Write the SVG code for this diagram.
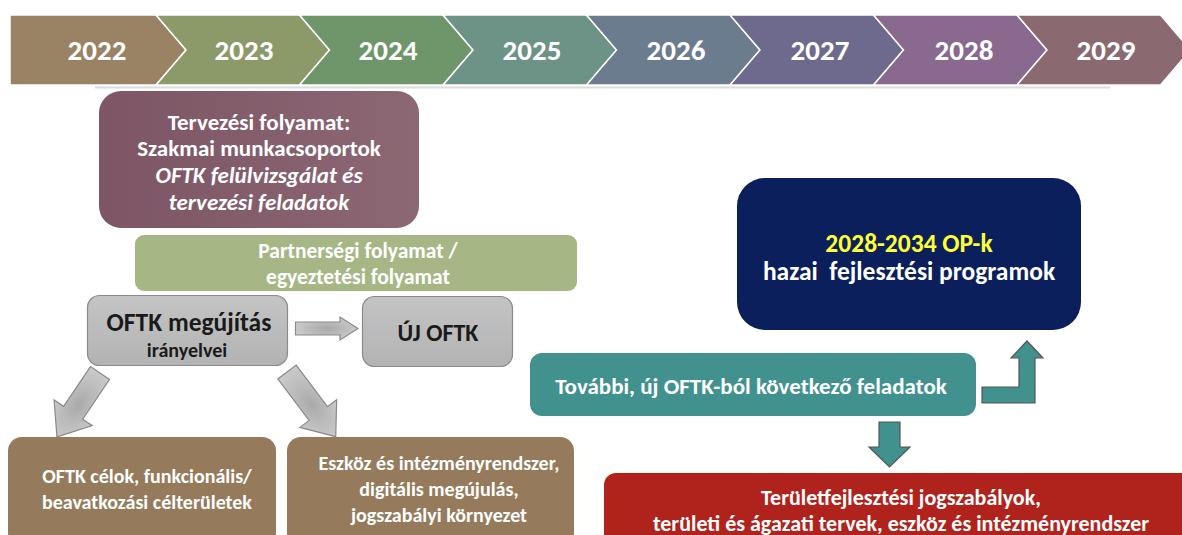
<svg xmlns="http://www.w3.org/2000/svg" width="1182" height="535" viewBox="0 0 1182 535">
<defs>
<style>
text{font-family:Carlito,Lato,"Liberation Sans",sans-serif;font-weight:bold;text-anchor:middle;fill:#fff}
.yr{font-size:29px}
.chev{stroke:#fff;stroke-width:1.5}
.t23{font-size:23px}
.t20{font-size:20px}
.t22{font-size:22px}
.dk{fill:#1a1a1a}
.garrow{fill:url(#gg);stroke:#8a8a8a;stroke-width:1.2}
.tarrow{fill:#41918F;stroke:#555;stroke-width:1.2}
</style>
<linearGradient id="gb" x1="0" y1="0" x2="0" y2="1"><stop offset="0" stop-color="#c4c4c4"/><stop offset="1" stop-color="#b3b3b3"/></linearGradient>
<radialGradient id="gg" cx="0.5" cy="0.5" r="0.6"><stop offset="0" stop-color="#a9a9a9"/><stop offset="1" stop-color="#d0d0d0"/></radialGradient>
<linearGradient id="gp" x1="0" y1="0" x2="1" y2="0"><stop offset="0" stop-color="#7d5564"/><stop offset="1" stop-color="#8c6774"/></linearGradient>
</defs>

<g id="timeline">
<polygon class="chev" fill="#9A8264" points="10,15 156,15 186,50 156,85 10,85"/>
<polygon class="chev" fill="#8C9A6A" points="156,15 299.5,15 329.5,50 299.5,85 156,85 186,50"/>
<polygon class="chev" fill="#6E966A" points="299.5,15 443,15 473,50 443,85 299.5,85 329.5,50"/>
<polygon class="chev" fill="#6C9386" points="443,15 586.5,15 616.5,50 586.5,85 443,85 473,50"/>
<polygon class="chev" fill="#6A7C8E" points="586.5,15 730,15 760,50 730,85 586.5,85 616.5,50"/>
<polygon class="chev" fill="#6E6A8E" points="730,15 873.5,15 903.5,50 873.5,85 730,85 760,50"/>
<polygon class="chev" fill="#896A8E" points="873.5,15 1017,15 1047,50 1017,85 873.5,85 903.5,50"/>
<polygon class="chev" fill="#8A6A70" points="1017,15 1160.5,15 1190.5,50 1160.5,85 1017,85 1047,50"/>
<line x1="95" y1="87.5" x2="1110" y2="87.5" stroke="#dcdcdc" stroke-width="2"/>
<text class="yr" x="97" y="60">2022</text>
<text class="yr" x="244" y="60">2023</text>
<text class="yr" x="388" y="60">2024</text>
<text class="yr" x="532" y="60">2025</text>
<text class="yr" x="676" y="60">2026</text>
<text class="yr" x="820" y="60">2027</text>
<text class="yr" x="964" y="60">2028</text>
<text class="yr" x="1106" y="60">2029</text>
</g>

<g id="tervezesi">
<rect x="99" y="91" width="320" height="137" rx="22" fill="url(#gp)"/>
<text class="t23" x="259" y="130">Tervezési folyamat:</text>
<text class="t23" x="259" y="156">Szakmai munkacsoportok</text>
<text class="t23" x="259" y="183" font-style="italic">OFTK felülvizsgálat és</text>
<text class="t23" x="259" y="210" font-style="italic">tervezési feladatok</text>
</g>

<g id="partnersegi">
<rect x="135" y="235" width="442" height="56" rx="9" fill="#A6B785"/>
<text x="358" y="258" font-size="21.5">Partnerségi folyamat /</text>
<text x="358" y="284" font-size="21.5">egyeztetési folyamat</text>
</g>

<g id="oftk-megujitas">
<rect x="87.5" y="295.5" width="200" height="70" rx="12" fill="url(#gb)" stroke="#8a8a8a" stroke-width="1.2"/>
<text class="dk" x="189" y="331" font-size="25.5">OFTK megújítás</text>
<text class="dk" x="187" y="357" font-size="20">irányelvei</text>
</g>

<g id="uj-oftk">
<rect x="362.5" y="296.5" width="150" height="70" rx="12" fill="url(#gb)" stroke="#8a8a8a" stroke-width="1.2"/>
<text class="dk" x="438" y="341" font-size="24">ÚJ OFTK</text>
</g>

<g id="oftk-celok">
<rect x="8" y="437" width="268" height="110" rx="14" fill="#957B5C"/>
<text class="t20" x="147" y="483">OFTK célok, funkcionális/</text>
<text class="t20" x="147" y="509">beavatkozási célterületek</text>
</g>

<g id="eszkoz">
<rect x="287" y="437" width="287" height="110" rx="14" fill="#957B5C"/>
<text class="t20" x="439" y="470">Eszköz és intézményrendszer,</text>
<text class="t20" x="439" y="496">digitális megújulás,</text>
<text class="t20" x="439" y="522">jogszabályi környezet</text>
</g>

<g id="op">
<rect x="737" y="178" width="344" height="152" rx="28" fill="#0B1F5C"/>
<text x="909" y="252" font-size="25.5" style="fill:#FFFF33">2028-2034 OP-k</text>
<text x="909" y="280" font-size="25.5" xml:space="preserve">hazai  fejlesztési programok</text>
</g>

<g id="tovabbi">
<rect x="530" y="353" width="446" height="63" rx="12" fill="#41918F"/>
<text class="t23" x="751" y="394">További, új OFTK-ból következő feladatok</text>
</g>

<g id="teruletfejlesztesi">
<rect x="604" y="473" width="600" height="80" rx="12" fill="#B0231C"/>
<text class="t22" x="901" y="505">Területfejlesztési jogszabályok,</text>
<text class="t22" x="901" y="531">területi és ágazati tervek, eszköz és intézményrendszer</text>
</g>

<g id="connectors">
<path class="garrow" d="M295.5,322 L340,322 L340,317 L358,328.5 L340,340 L340,335 L295.5,335 Z"/>
<path class="garrow" transform="translate(100,373) rotate(124)" d="M0,-11.5 L48,-11.5 L48,-23 L77,0 L48,23 L48,11.5 L0,11.5 Z"/>
<path class="garrow" transform="translate(287,372) rotate(53)" d="M0,-11.5 L52,-11.5 L52,-23 L81,0 L52,23 L52,11.5 L0,11.5 Z"/>
<path class="tarrow" d="M982,387 L1019,387 L1019,358 L1011,358 L1027,341 L1043,358 L1035,358 L1035,403 L982,403 Z"/>
<path class="tarrow" d="M879,422 L900,422 L900,447 L910,447 L889.5,467 L869,447 L879,447 Z"/>
</g>
</svg>
